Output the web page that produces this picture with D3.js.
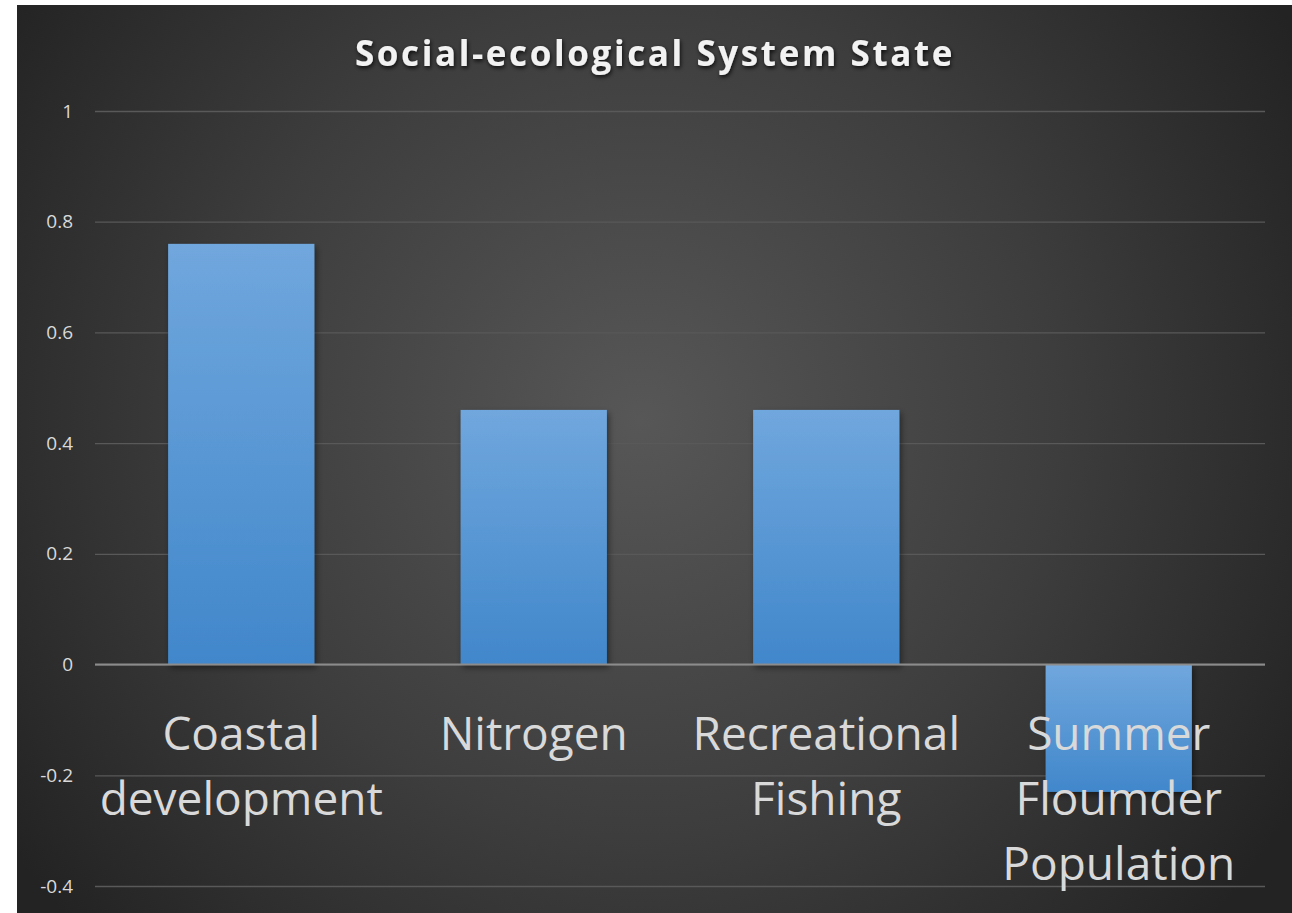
<!DOCTYPE html>
<html>
<head>
<meta charset="utf-8">
<script src="https://cdn.jsdelivr.net/npm/d3@7"></script>
<style>
  html, body { margin: 0; padding: 0; background: #ffffff; }
  svg { display: block; }
</style>
</head>
<body>
<svg id="chart" width="1292" height="913"></svg>
<script>
// Social-ecological system state indicators
const categories = [
  ["Coastal", "development"],
  ["Nitrogen"],
  ["Recreational", "Fishing"],
  ["Summer", "Floumder", "Population"]
];
const values = [0.76, 0.46, 0.46, -0.23];
const yTicks = [1, 0.8, 0.6, 0.4, 0.2, 0, -0.2, -0.4];
const tickLabels = ["1", "0.8", "0.6", "0.4", "0.2", "0", "-0.2", "-0.4"];
const title = "Social-ecological System State";

const svg = d3.select("#chart");
const frame = { x: 17, y: 5, w: 1275, h: 908 };
const plot = { left: 95, right: 1265, top: 111, bottom: 886 };

const defs = svg.append("defs");

// Background: dark radial vignette
const bg = defs.append("radialGradient").attr("id", "bgGrad")
  .attr("gradientUnits", "userSpaceOnUse")
  .attr("cx", 640).attr("cy", 420).attr("r", 760);
bg.append("stop").attr("offset", "0%").attr("stop-color", "#575757");
bg.append("stop").attr("offset", "55%").attr("stop-color", "#3d3d3d");
bg.append("stop").attr("offset", "100%").attr("stop-color", "#232323");

// Bar fill: lighter at the top, deeper blue at the bottom
const barGrad = defs.append("linearGradient").attr("id", "barGrad")
  .attr("x1", 0).attr("y1", 0).attr("x2", 0).attr("y2", 1);
barGrad.append("stop").attr("offset", "0%").attr("stop-color", "#70a7dd");
barGrad.append("stop").attr("offset", "100%").attr("stop-color", "#4187cb");

const shadow = defs.append("filter").attr("id", "barShadow")
  .attr("x", "-10%").attr("y", "-10%").attr("width", "130%").attr("height", "130%");
shadow.append("feDropShadow").attr("dx", 2).attr("dy", 3).attr("stdDeviation", 3)
  .attr("flood-color", "#000").attr("flood-opacity", 0.45);

const titleShadow = defs.append("filter").attr("id", "titleShadow")
  .attr("x", "-5%").attr("y", "-30%").attr("width", "110%").attr("height", "160%");
titleShadow.append("feDropShadow").attr("dx", 1).attr("dy", 2).attr("stdDeviation", 2)
  .attr("flood-color", "#000").attr("flood-opacity", 0.8);

svg.append("rect")
  .attr("x", frame.x).attr("y", frame.y)
  .attr("width", frame.w).attr("height", frame.h)
  .attr("fill", "url(#bgGrad)");

// Scales
const x = d3.scaleBand()
  .domain(d3.range(categories.length))
  .range([plot.left, plot.right])
  .paddingInner(0.5).paddingOuter(0.25);

const y = d3.scaleLinear()
  .domain([-0.4, 1])
  .range([plot.bottom, plot.top]);

// Gridlines
const grid = svg.append("g").attr("class", "grid")
  .attr("transform", `translate(${plot.left},0)`)
  .call(d3.axisLeft(y).tickValues(yTicks).tickSize(-(plot.right - plot.left)).tickFormat(""));
grid.select(".domain").remove();
grid.selectAll(".tick line")
  .attr("stroke", "#595959").attr("stroke-width", 1.3);

// Value axis labels
const yAxis = svg.append("g").attr("class", "y-axis")
  .attr("transform", `translate(${plot.left - 22},0)`)
  .call(d3.axisLeft(y).tickValues(yTicks).tickSize(0)
    .tickFormat((d, i) => tickLabels[i]));
yAxis.select(".domain").remove();
yAxis.selectAll(".tick text")
  .attr("x", 0)
  .attr("fill", "#d9d9d9")
  .attr("font-family", "'Open Sans', sans-serif")
  .attr("font-size", 19);

// Bars
svg.append("g").attr("class", "bars")
  .selectAll("rect")
  .data(values)
  .join("rect")
  .attr("x", (d, i) => x(i))
  .attr("width", x.bandwidth())
  .attr("y", d => y(Math.max(0, d)))
  .attr("height", d => Math.abs(y(d) - y(0)))
  .attr("fill", "url(#barGrad)")
  .attr("filter", "url(#barShadow)");

// Zero baseline
svg.append("line")
  .attr("x1", plot.left).attr("x2", plot.right)
  .attr("y1", y(0)).attr("y2", y(0))
  .attr("stroke", "#8c8c8c").attr("stroke-width", 2);

// Category labels
const labels = svg.append("g").attr("class", "x-labels")
  .attr("font-family", "'Open Sans', sans-serif")
  .attr("font-size", 46)
  .attr("fill", "#d9d9d9")
  .attr("text-anchor", "middle");

labels.selectAll("text")
  .data(categories)
  .join("text")
  .attr("x", (d, i) => x(i) + x.bandwidth() / 2)
  .attr("y", 750)
  .selectAll("tspan")
  .data(d => d)
  .join("tspan")
  .attr("x", function () { return d3.select(this.parentNode).attr("x"); })
  .attr("dy", (d, i) => i === 0 ? 0 : 65)
  .text(d => d);

// Title
svg.append("text")
  .attr("x", 655).attr("y", 66)
  .attr("text-anchor", "middle")
  .attr("font-family", "'Open Sans', sans-serif")
  .attr("font-weight", 700)
  .attr("font-size", 35)
  .attr("letter-spacing", 2.6)
  .attr("fill", "#f2f2f2")
  .attr("filter", "url(#titleShadow)")
  .text(title);
</script>
</body>
</html>
